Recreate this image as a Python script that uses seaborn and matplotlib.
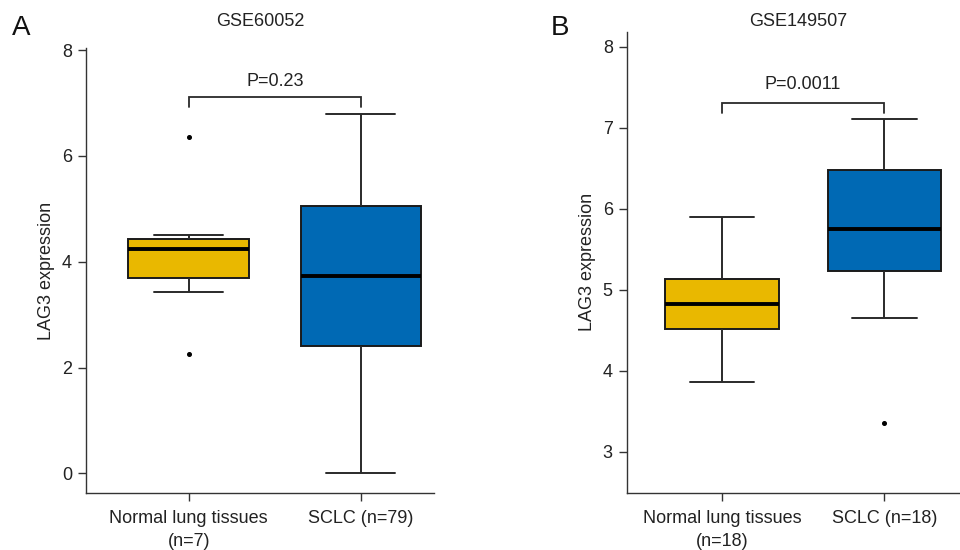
import matplotlib
matplotlib.use("Agg")
import matplotlib.pyplot as plt
import seaborn as sns
import pandas as pd

# ---------------- data ----------------
cats_a = ["Normal lung tissues\n(n=7)", "SCLC (n=79)"]
cats_b = ["Normal lung tissues\n(n=18)", "SCLC (n=18)"]

# values reproducing each box: outliers, whisker ends, quartiles, median
a_normal = [2.26, 3.42, 3.70, 4.00, 4.24, 4.35, 4.43, 4.50, 6.36]
a_sclc = [0.00, 2.41, 3.74, 5.05, 6.80]
b_normal = [3.86, 4.51, 4.82, 5.13, 5.90]
b_sclc = [3.35, 4.65, 5.23, 5.50, 5.75, 6.10, 6.48, 6.80, 7.11]

titles = ["GSE60052", "GSE149507"]
pvals = ["P=0.23", "P=0.0011"]
bracket_y = [7.12, 7.31]
bracket_drop = [0.20, 0.13]
yticks_a = [0, 2, 4, 6, 8]
yticks_b = [3, 4, 5, 6, 7, 8]

yellow = "#E9B800"
blue = "#0069B4"

sns.set_style("white")
plt.rcParams["font.family"] = ["Liberation Sans", "DejaVu Sans"]

df_a = pd.DataFrame({"group": [cats_a[0]] * len(a_normal) + [cats_a[1]] * len(a_sclc),
                     "value": a_normal + a_sclc})
df_b = pd.DataFrame({"group": [cats_b[0]] * len(b_normal) + [cats_b[1]] * len(b_sclc),
                     "value": b_normal + b_sclc})

fig = plt.figure(figsize=(9.6, 5.5), dpi=100)
ax_a = fig.add_axes([86 / 960, 57 / 550, (434 - 86) / 960, (493 - 48) / 550])
ax_b = fig.add_axes([626.7 / 960, 57 / 550, (960 - 626.7) / 960, (493 - 31.7) / 550])

edge = "#1a1a1a"
spine_c = "#333333"
txt_c = "#222222"
fs = 13

def draw(ax, df, cats, ylim, xlim, yticks, title, title_x, pval, by, drop, letter, letter_x):
    sns.boxplot(data=df, x="group", y="value", hue="group", order=cats, hue_order=cats,
                palette={cats[0]: yellow, cats[1]: blue}, saturation=1, width=0.7, whis=1.4,
                linewidth=1.4, linecolor=edge, legend=False, ax=ax,
                medianprops=dict(color="black", linewidth=2.8),
                whiskerprops=dict(color="#2a2a2a", linewidth=1.4),
                capprops=dict(color="#2a2a2a", linewidth=1.4),
                flierprops=dict(marker="o", markersize=2.6, markerfacecolor="black",
                                markeredgecolor="black"),
                capwidths=0.40)
    ax.set_ylim(*ylim)
    ax.set_xlim(*xlim)
    ax.set_yticks(yticks)
    ax.set_yticklabels([str(t) for t in yticks])
    ax.set_xlabel("")
    ax.set_ylabel("LAG3 expression", fontsize=fs, color=txt_c, labelpad=5)
    ax.tick_params(axis="both", which="major", length=6, width=1, color=spine_c,
                   labelsize=fs, labelcolor=txt_c, left=True, bottom=True, pad=4)
    ax.tick_params(axis="x", pad=6.5)
    for lab in ax.get_xticklabels():
        lab.set_linespacing(1.45)
    for s in ["top", "right"]:
        ax.spines[s].set_visible(False)
    for s in ["left", "bottom"]:
        ax.spines[s].set_color(spine_c)
        ax.spines[s].set_linewidth(1.0)
    ax.plot([0, 0, 1, 1], [by - drop, by, by, by - drop], color="#2a2a2a", lw=1.3,
            solid_joinstyle="miter", clip_on=False)
    ax.text(0.5, by + 0.12, pval, ha="center", va="bottom", fontsize=fs, color=txt_c)
    fig.text(title_x, 1 - 22 / 550, title, fontsize=fs, color=txt_c, ha="center", va="center")
    fig.text(letter_x, 1 - 28 / 550, letter, fontsize=20, color="#111111", ha="left", va="center")

draw(ax_a, df_a, cats_a, (-0.37, 8.04), (-0.596, 1.424), yticks_a, titles[0], 260 / 960,
     pvals[0], bracket_y[0], bracket_drop[0], "A", 12 / 960)
draw(ax_b, df_b, cats_b, (2.49, 8.185), (-0.587, 1.466), yticks_b, titles[1], 798 / 960,
     pvals[1], bracket_y[1], bracket_drop[1], "B", 551 / 960)

fig.savefig("out.png", dpi=100)
